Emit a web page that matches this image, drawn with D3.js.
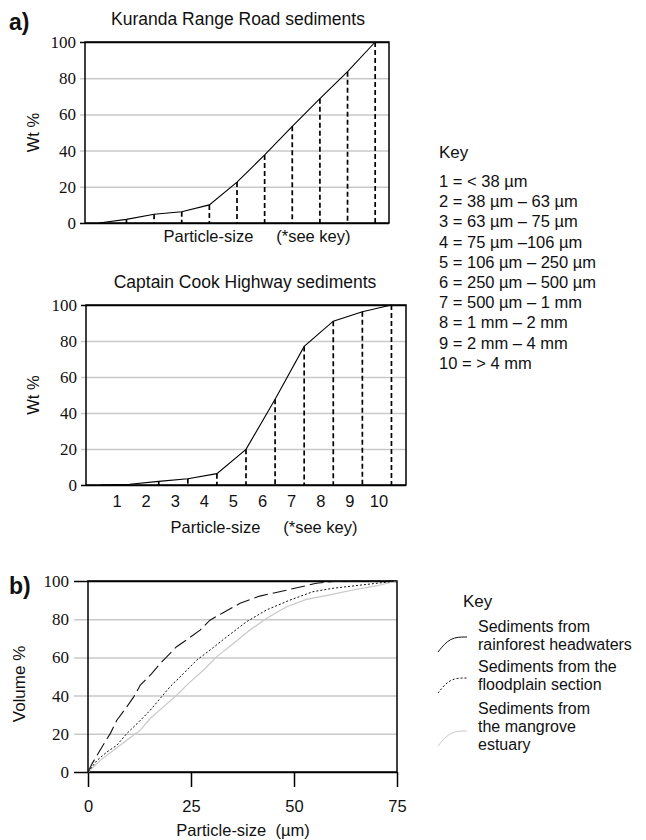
<!DOCTYPE html>
<html>
<head>
<meta charset="utf-8">
<script src="https://cdn.jsdelivr.net/npm/d3@7"></script>
<style>
  body { margin: 0; background: #fff; }
</style>
</head>
<body>
<svg id="fig" width="646" height="840"></svg>
<script>
// ---- data ----
var classIndex = [0, 1, 2, 3, 4, 5, 6, 7, 8, 9, 10];
var classLabels = ["1", "2", "3", "4", "5", "6", "7", "8", "9", "10"];
var kurandaWt = [0, 2, 4.8, 6.2, 10, 22.6, 37.6, 53.4, 68.7, 83.6, 100];
var captainCookWt = [0, 0.4, 2, 3.5, 6.3, 19.8, 47.6, 77, 91, 96.3, 100];
var wtTicks = [0, 20, 40, 60, 80, 100];
var keyLabels = ["1 = < 38 \u00b5m", "2 = 38 \u00b5m \u2013 63 \u00b5m", "3 = 63 \u00b5m \u2013 75 \u00b5m",
  "4 = 75 \u00b5m \u2013106 \u00b5m", "5 = 106 \u00b5m \u2013 250 \u00b5m", "6 = 250 \u00b5m \u2013 500 \u00b5m",
  "7 = 500 \u00b5m \u2013 1 mm", "8 = 1 mm \u2013 2 mm", "9 = 2 mm \u2013 4 mm", "10 = > 4 mm"];

// panel b: particle size (um) vs cumulative volume %
var rainforest = [[0,0],[1,4.4],[2.2,8.7],[3.4,13.1],[5.4,20.1],[7,27.1],[9.4,34.1],[11.1,39.3],[12.7,45.5],
  [15.5,51.6],[17.5,56.8],[19.1,60.3],[21.5,65.6],[24.4,69.9],[27.2,74.3],[29.6,79.5],[32.8,83.4],
  [36.9,88.3],[41.7,92.1],[49,95.6],[55.4,98.8],[59.5,99.7],[75,100]];
var floodplain = [[0,0],[2.2,6.1],[4.6,10.5],[7,14],[9.4,20.1],[11.9,25.3],[15.1,32.3],[17.5,38.5],
  [19.9,44.6],[23.2,51.6],[26.4,58.6],[29.6,63.8],[33.7,70.8],[38.5,78.7],[43.3,84.8],[49,90],
  [54.6,94.4],[59.5,96.2],[64.3,97.4],[75,100]];
var mangrove = [[0,0],[3,6.1],[6.2,11.4],[9.4,16.6],[12.7,21.9],[15.1,28],[18.3,34.1],[21.5,40.2],
  [24.8,47.2],[28,53.3],[31.2,60.3],[35.3,67.3],[39.3,74.3],[43.3,80.4],[48.2,86.5],[53,90.4],
  [58.7,92.7],[64.3,95.3],[69.9,97.4],[75,100]];
var sizeTicks = [0, 25, 50, 75];
var seriesNames = [["Sediments from", "rainforest headwaters"], ["Sediments from the", "floodplain section"],
  ["Sediments from", "the mangrove", "estuary"]];

var sans = '"Liberation Sans", Arial, sans-serif';
var serif = '"Liberation Serif", "DejaVu Serif", "Times New Roman", serif';
var svg = d3.select("#fig").attr("font-family", sans);
var grid = "#c9c9c9";
var ink = "#111";

function wtPanel(box, values, title, showLabels) {
  var x = d3.scaleLinear().domain([-0.5, 10.5]).range([box.left, box.right]);
  var y = d3.scaleLinear().domain([0, 100]).range([box.bottom, box.top]);
  var g = svg.append("g");

  var ax = g.append("g")
    .attr("transform", "translate(" + (box.left - 5) + ",0)")
    .call(d3.axisLeft(y).tickValues(wtTicks).tickSize(-(box.right - box.left + 5)).tickPadding(4))
    .attr("font-family", serif).attr("font-size", 17);
  ax.select(".domain").remove();
  ax.selectAll(".tick line")
    .attr("stroke", d => (d === 0 || d === 100) ? "#000" : grid)
    .attr("stroke-width", 1.5);
  ax.selectAll(".tick text").attr("fill", ink);

  g.append("rect")
    .attr("x", box.left).attr("y", box.top)
    .attr("width", box.right - box.left).attr("height", box.bottom - box.top)
    .attr("fill", "none").attr("stroke", "#000").attr("stroke-width", 1.5);

  g.selectAll("line.drop")
    .data(classIndex.slice(1))
    .join("line").attr("class", "drop")
    .attr("x1", d => x(d)).attr("x2", d => x(d))
    .attr("y1", d => y(values[d])).attr("y2", y(0))
    .attr("stroke", "#000").attr("stroke-width", 1.7)
    .attr("stroke-dasharray", "5,3");

  g.append("path")
    .datum(classIndex)
    .attr("d", d3.line().x(d => x(d)).y(d => y(values[d])))
    .attr("fill", "none").attr("stroke", "#000").attr("stroke-width", 1.1);

  g.append("text")
    .attr("x", (box.left + box.right) / 2 + box.titleShift).attr("y", box.top - 17)
    .attr("text-anchor", "middle").attr("font-size", 17.5).attr("fill", ink)
    .text(title);

  g.append("text")
    .attr("transform", "translate(39," + (box.top + box.bottom) / 2 + ") rotate(-90)")
    .attr("text-anchor", "middle").attr("font-size", 16.5).attr("fill", ink)
    .text("Wt %");

  if (showLabels) {
    g.selectAll("text.cls")
      .data(classLabels)
      .join("text").attr("class", "cls")
      .attr("x", (d, i) => x(i + 0.5) + 2).attr("y", box.bottom + 22)
      .attr("text-anchor", "middle").attr("font-size", 16.5).attr("fill", ink)
      .text(d => d);
  }
  g.append("text")
    .attr("x", box.xLabelX).attr("y", box.xLabelY)
    .attr("text-anchor", "middle").attr("font-size", 16.5).attr("fill", ink)
    .style("white-space", "pre")
    .text("Particle-size     (*see key)");
}

wtPanel({left: 85, right: 389, top: 42, bottom: 223, titleShift: 1, xLabelX: 257, xLabelY: 242},
  kurandaWt, "Kuranda Range Road sediments", false);
wtPanel({left: 86, right: 406, top: 305, bottom: 485, titleShift: -1, xLabelX: 264, xLabelY: 533},
  captainCookWt, "Captain Cook Highway sediments", true);

svg.append("text").attr("x", 9).attr("y", 30).attr("fill", ink)
  .attr("font-size", 23).attr("font-weight", "bold").text("a)");

// key for panel a
svg.append("text").attr("x", 439).attr("y", 158).attr("font-size", 17).attr("fill", ink).text("Key");
svg.selectAll("text.key")
  .data(keyLabels)
  .join("text").attr("class", "key")
  .attr("x", 439).attr("y", (d, i) => 187 + i * 20.2)
  .attr("font-size", 16.5).attr("fill", ink)
  .text(d => d);

// ---- panel b ----
var bx = d3.scaleLinear().domain([0, 75]).range([88, 397]);
var by = d3.scaleLinear().domain([0, 100]).range([772, 581]);
var gb = svg.append("g");

var yb = gb.append("g")
  .attr("transform", "translate(74,0)")
  .call(d3.axisLeft(by).tickValues(wtTicks).tickSize(-(397 - 74)).tickPadding(5))
  .attr("font-family", serif).attr("font-size", 17);
yb.select(".domain").remove();
yb.selectAll(".tick line")
  .attr("stroke", d => (d === 0 || d === 100) ? "#000" : grid)
  .attr("stroke-width", 1.5);
yb.selectAll(".tick text").attr("fill", ink);

var xb = gb.append("g")
  .attr("transform", "translate(0,772)")
  .call(d3.axisBottom(bx).tickValues(sizeTicks).tickSize(15).tickPadding(13))
  .attr("font-family", sans).attr("font-size", 16.5);
xb.select(".domain").remove();
xb.selectAll(".tick line").attr("stroke", "#000").attr("stroke-width", 1.5);
xb.selectAll(".tick text").attr("fill", ink);

gb.append("rect")
  .attr("x", 88).attr("y", 581).attr("width", 397 - 88).attr("height", 772 - 581)
  .attr("fill", "none").attr("stroke", "#000").attr("stroke-width", 1.5);

var sizeLine = d3.line().x(d => bx(d[0])).y(d => by(d[1]));
gb.append("path").datum(mangrove).attr("d", sizeLine)
  .attr("fill", "none").attr("stroke", "#c8c8c8").attr("stroke-width", 1.2);
gb.append("path").datum(floodplain).attr("d", sizeLine)
  .attr("fill", "none").attr("stroke", ink).attr("stroke-width", 1)
  .attr("stroke-dasharray", "2,2");
gb.append("path").datum(rainforest).attr("d", sizeLine)
  .attr("fill", "none").attr("stroke", ink).attr("stroke-width", 1.1)
  .attr("stroke-dasharray", "14,5");

gb.append("text")
  .attr("transform", "translate(25,684) rotate(-90)")
  .attr("text-anchor", "middle").attr("font-size", 17).attr("fill", ink).text("Volume %");
gb.append("text").attr("x", 243).attr("y", 836)
  .attr("text-anchor", "middle").attr("font-size", 16.5).attr("fill", ink).style("white-space", "pre")
  .text("Particle-size  (\u00b5m)");
svg.append("text").attr("x", 9).attr("y", 594).attr("fill", ink)
  .attr("font-size", 23).attr("font-weight", "bold").text("b)");

// key for panel b
svg.append("text").attr("x", 463).attr("y", 607).attr("font-size", 17).attr("fill", ink).text("Key");
var iconStyles = [
  {stroke: ink, dash: null},
  {stroke: ink, dash: "2,2"},
  {stroke: "#c8c8c8", dash: null}
];
var iconTop = [637, 678, 731];
var textTop = [632, 672, 714];
var icon = d3.line().curve(d3.curveBasis);
seriesNames.forEach(function(lines, k) {
  var t = iconTop[k];
  gb.append("path")
    .attr("d", icon([[438, t + 15], [450, t], [467, t]]))
    .attr("fill", "none").attr("stroke", iconStyles[k].stroke).attr("stroke-width", 1)
    .attr("stroke-dasharray", iconStyles[k].dash);
  gb.selectAll(null)
    .data(lines)
    .join("text")
    .attr("x", 478).attr("y", (d, i) => textTop[k] + i * 18)
    .attr("font-size", 16).attr("fill", ink)
    .text(d => d);
});
</script>
</body>
</html>
